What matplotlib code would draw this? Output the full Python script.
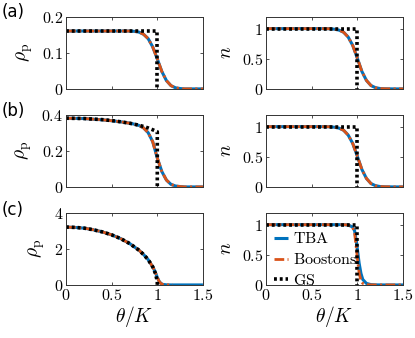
import matplotlib.pyplot as plt
import numpy as np

plt.rcParams["mathtext.fontset"] = "cm"

# theta / K grid for the finite temperature curves
theta = [0, 0.2, 0.4, 0.5, 0.6, 0.7, 0.75, 0.8, 0.85, 0.9, 0.95, 1.0,
         1.05, 1.1, 1.15, 1.2, 1.25, 1.3, 1.4, 1.5]

# (a)
rho_a = [0.16, 0.16, 0.16, 0.16, 0.16, 0.16, 0.159, 0.157, 0.151, 0.139, 0.116, 0.083,
         0.048, 0.023, 0.009, 0.003, 0.001, 0.0, 0.0, 0.0]
n_a = [1, 1, 1, 1, 1, 0.998, 0.99, 0.975, 0.94, 0.86, 0.72, 0.51,
       0.29, 0.14, 0.055, 0.02, 0.006, 0.002, 0, 0]
gs_theta_a = [0, 1.0, 1.0]
gs_rho_a = [0.16, 0.16, 0.0]
gs_n_a = [1, 1, 0]

# (b)
rho_b = [0.38, 0.378, 0.371, 0.366, 0.36, 0.352, 0.347, 0.34, 0.326, 0.3, 0.25, 0.16,
         0.085, 0.038, 0.014, 0.005, 0.002, 0.0, 0.0, 0.0]
n_b = [1, 1, 1, 1, 1, 0.998, 0.99, 0.975, 0.94, 0.86, 0.72, 0.51,
       0.29, 0.14, 0.055, 0.02, 0.006, 0.002, 0, 0]
gs_theta_b = [0, 0.2, 0.4, 0.5, 0.6, 0.7, 0.8, 0.85, 0.9, 0.95, 1.0, 1.0]
gs_rho_b = [0.38, 0.378, 0.372, 0.367, 0.36, 0.352, 0.341, 0.334, 0.326, 0.316, 0.305, 0.0]
gs_n_b = [1, 1, 0]

# (c)
theta_c = [0, 0.1, 0.2, 0.3, 0.4, 0.5, 0.6, 0.7, 0.8, 0.85, 0.9, 0.95, 0.97,
           0.99, 1.0, 1.02, 1.04, 1.06, 1.1, 1.15, 1.2, 1.3, 1.4, 1.5]
rho_c = [3.2, 3.18, 3.14, 3.05, 2.93, 2.77, 2.56, 2.28, 1.92, 1.68, 1.4, 1.0, 0.8,
         0.55, 0.42, 0.2, 0.08, 0.03, 0.005, 0.0, 0.0, 0.0, 0.0, 0.0]
n_c_tba = [1, 1, 1, 1, 1, 1, 1, 1, 1, 1, 0.995, 0.96, 0.9,
           0.72, 0.6, 0.36, 0.19, 0.09, 0.025, 0.005, 0.001, 0, 0, 0]
n_c_boost = [1, 1, 1, 1, 1, 1, 1, 1, 1, 1, 0.995, 0.95, 0.86,
             0.6, 0.45, 0.2, 0.07, 0.025, 0.005, 0.001, 0, 0, 0, 0]
boost_end_c = 1.17  # Boostons curve for rho_p (c) stops here
gs_theta_c = [0, 0.1, 0.2, 0.3, 0.4, 0.5, 0.6, 0.7, 0.8, 0.85, 0.9, 0.95, 0.98, 1.0, 1.0]
gs_rho_c = [3.2, 3.18, 3.14, 3.05, 2.93, 2.77, 2.56, 2.28, 1.92, 1.68, 1.4, 1.0, 0.63, 0.2, 0.0]
gs_n_c = [1, 1, 0]

blue = "#0072BD"
orange = "#D95319"
frame = "#333333"

fig = plt.figure(figsize=(4.15, 3.38), dpi=100)

lefts = [0.159, 0.641]
bottoms = [0.737, 0.447, 0.157]
w, h = 0.330, 0.214


def draw(ax, x, tba, bx, boost, gx, gs):
    ax.plot(x, tba, color=blue, lw=2.2, label=r"$\mathrm{TBA}$", solid_capstyle="butt")
    ax.plot(bx, boost, color=orange, lw=2.0, dashes=(3.5, 1.2, 0.8, 1.2),
            label=r"$\mathrm{Boostons}$")
    ax.plot(gx, gs, color="k", lw=2.6, dashes=(0.8, 0.8), label=r"$\mathrm{GS}$")


def style(ax, ymax, yticks, bottom_row, ylabel):
    ax.set_xlim(0, 1.5)
    ax.set_ylim(0, ymax)
    ax.set_xticks([0, 0.5, 1, 1.5])
    ax.set_yticks(yticks)
    ax.set_yticklabels([f"${v:g}$" for v in yticks])
    if bottom_row:
        ax.set_xticklabels(["$0$", "$0.5$", "$1$", "$1.5$"])
        ax.set_xlabel(r"$\theta/K$", fontsize=14, labelpad=1)
    else:
        ax.set_xticklabels([])
    ax.set_ylabel(ylabel, fontsize=14, labelpad=5)
    ax.tick_params(direction="in", top=True, right=True, length=2.5,
                   width=0.6, color=frame, labelsize=11.5, pad=2)
    for s in ax.spines.values():
        s.set_linewidth(0.7)
        s.set_color(frame)


rows = [
    (rho_a, n_a, gs_theta_a, gs_rho_a, gs_n_a, 0.2, [0, 0.1, 0.2]),
    (rho_b, n_b, gs_theta_b, gs_rho_b, gs_n_b, 0.4, [0, 0.2, 0.4]),
]

for i, (rl, nl, gtx, grho, gn, ym, yt) in enumerate(rows):
    axl = fig.add_axes([lefts[0], bottoms[i], w, h])
    draw(axl, theta, rl, theta, rl, gtx, grho)
    style(axl, ym, yt, False, r"$\rho_{\rm p}$")
    axr = fig.add_axes([lefts[1], bottoms[i], w, h])
    draw(axr, theta, nl, theta, nl, [0, 1.0, 1.0], gn)
    style(axr, 1.2, [0, 0.5, 1], False, r"$n$")

# row (c)
theta_c_arr = np.array(theta_c)
keep = theta_c_arr <= boost_end_c
bx = list(theta_c_arr[keep]) + [boost_end_c]
by = list(np.array(rho_c)[keep]) + [0.0]
axl = fig.add_axes([lefts[0], bottoms[2], w, h])
draw(axl, theta_c, rho_c, bx, by, gs_theta_c, gs_rho_c)
style(axl, 4, [0, 2, 4], True, r"$\rho_{\rm p}$")

axr = fig.add_axes([lefts[1], bottoms[2], w, h])
draw(axr, theta_c, n_c_tba, theta_c, n_c_boost, [0, 1.0, 1.0], gs_n_c)
style(axr, 1.2, [0, 0.5, 1], True, r"$n$")
axr.legend(loc="upper left", bbox_to_anchor=(0.0, 0.85), frameon=False,
           fontsize=11.5, handlelength=0.9, handletextpad=0.3,
           labelspacing=0.36, borderaxespad=0.1)

for lab, ypx in zip(["(a)", "(b)", "(c)"], [12, 111, 210]):
    fig.text(2 / 415, 1 - ypx / 338, lab, fontsize=12, va="center", ha="left")

fig.savefig("out.png", dpi=100)
